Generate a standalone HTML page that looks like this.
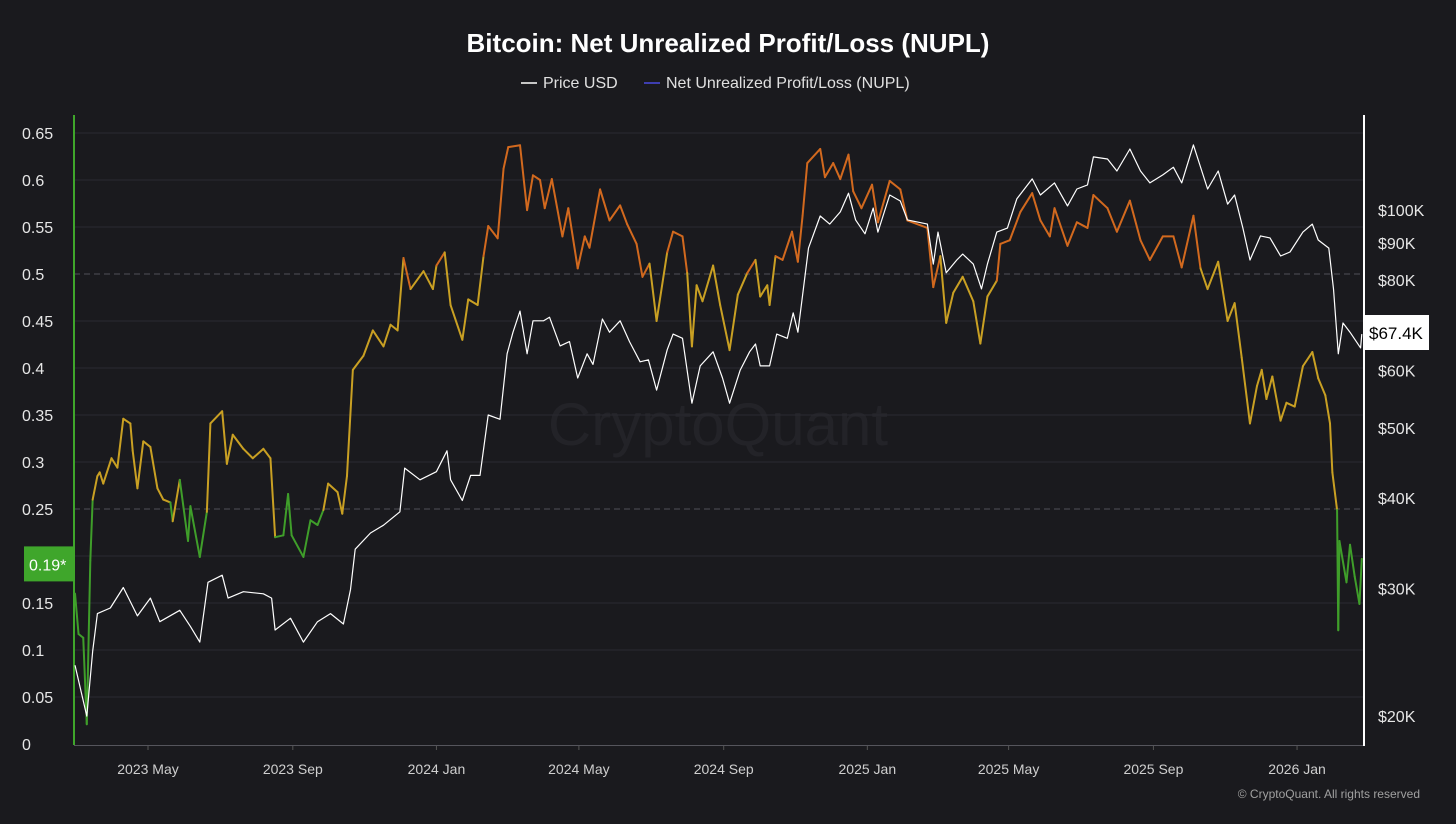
<!DOCTYPE html>
<html><head><meta charset="utf-8">
<style>
html,body{margin:0;padding:0;background:#1a1a1e;}
body{width:1456px;height:819px;overflow:hidden;font-family:"Liberation Sans",sans-serif;}
svg text{font-family:"Liberation Sans",sans-serif;}
</style></head>
<body>
<svg id="chart" width="1456" height="819" viewBox="0 0 1456 819" xmlns="http://www.w3.org/2000/svg">
<rect x="0" y="0" width="1456" height="819" fill="#1a1a1e"/>
<text x="728" y="52" text-anchor="middle" fill="#ffffff" font-size="26" font-weight="bold">Bitcoin: Net Unrealized Profit/Loss (NUPL)</text>
<g>
<line x1="521" y1="83" x2="537" y2="83" stroke="#ffffff" stroke-width="1.5"/>
<text x="543" y="88" fill="#e0e0e0" font-size="16">Price USD</text>
<line x1="644" y1="83" x2="660" y2="83" stroke="#4a4ae0" stroke-width="1.5"/>
<text x="666" y="88" fill="#e0e0e0" font-size="16">Net Unrealized Profit/Loss (NUPL)</text>
</g>
<text x="718" y="445" text-anchor="middle" fill="#232328" font-size="60">CryptoQuant</text>
<g id="grid"></g>
<g id="axes"></g>
<g id="series"></g>
<g id="labels"></g>
<text x="1420" y="798" text-anchor="end" fill="#a0a0a0" font-size="12">© CryptoQuant. All rights reserved</text>
</svg>
<script>
// ---- data ----
const nuplTicks = [0,0.05,0.1,0.15,0.2,0.25,0.3,0.35,0.4,0.45,0.5,0.55,0.6,0.65];
const priceTicks = [20,30,40,50,60,80,90,100];
const xTickLabels = ["2023 May","2023 Sep","2024 Jan","2024 May","2024 Sep","2025 Jan","2025 May","2025 Sep","2026 Jan"];
const xTickDays = [0,123,245,366,489,611,731,854,976]; // days since 2023-05-01
const nuplDays = [-62,-59,-55,-52,-49,-47,-43,-41,-38,-31,-26,-21,-15,-13,-9,-4,2,8,13,19,21,27,34,36,44,50,53,63,67,72,81,89,98,104,108,115,119,122,132,138,144,149,153,161,165,169,174,183,191,200,206,212,217,223,234,242,245,252,257,267,272,280,285,289,297,302,306,316,322,327,333,337,343,352,357,365,371,375,384,392,401,407,415,420,426,432,441,446,454,458,462,466,471,480,486,494,501,509,516,520,526,528,533,539,547,552,556,560,571,575,582,588,595,599,606,615,620,630,639,645,662,667,673,678,684,692,701,707,713,721,724,732,741,751,758,766,770,781,789,798,803,815,823,834,843,851,862,871,878,888,894,900,909,917,923,929,936,942,946,950,955,962,967,974,981,989,994,1000,1004,1006,1010,1011,1012,1018,1021,1025,1029,1031];
const nuplValues = [0.160,0.117,0.113,0.021,0.195,0.260,0.285,0.289,0.277,0.304,0.294,0.346,0.341,0.312,0.272,0.322,0.316,0.272,0.260,0.257,0.237,0.281,0.216,0.253,0.199,0.247,0.341,0.354,0.298,0.329,0.314,0.304,0.314,0.304,0.220,0.222,0.266,0.222,0.199,0.238,0.233,0.249,0.277,0.268,0.245,0.285,0.398,0.413,0.440,0.423,0.446,0.440,0.517,0.484,0.503,0.484,0.509,0.523,0.467,0.430,0.473,0.467,0.519,0.551,0.538,0.612,0.635,0.637,0.568,0.605,0.600,0.570,0.601,0.540,0.570,0.506,0.540,0.528,0.590,0.557,0.573,0.553,0.532,0.497,0.511,0.450,0.523,0.545,0.540,0.501,0.423,0.488,0.471,0.509,0.467,0.419,0.478,0.501,0.515,0.476,0.488,0.467,0.519,0.515,0.545,0.513,0.562,0.618,0.633,0.603,0.618,0.601,0.627,0.588,0.570,0.595,0.555,0.599,0.590,0.557,0.549,0.486,0.519,0.448,0.480,0.497,0.471,0.426,0.476,0.493,0.532,0.536,0.566,0.586,0.557,0.540,0.570,0.530,0.555,0.549,0.584,0.570,0.545,0.578,0.536,0.515,0.540,0.540,0.507,0.562,0.506,0.484,0.513,0.450,0.469,0.411,0.341,0.381,0.398,0.367,0.391,0.344,0.363,0.359,0.402,0.417,0.389,0.371,0.341,0.289,0.249,0.121,0.216,0.172,0.212,0.178,0.149,0.197];
const priceDays = [-62,-52,-47,-43,-32,-21,-9,2,10,27,36,44,51,63,68,81,98,105,108,121,132,144,155,166,172,176,189,200,214,218,231,245,254,257,267,274,282,289,299,305,310,316,322,327,336,341,350,358,365,373,378,386,392,401,409,418,425,432,441,446,454,462,469,480,488,494,503,511,516,520,528,534,543,548,552,556,561,571,579,588,595,601,609,616,620,630,639,645,662,667,671,678,687,692,701,708,713,721,730,738,751,758,770,781,789,798,803,815,823,834,843,851,862,871,878,888,900,909,917,923,930,936,945,953,962,970,981,989,994,1003,1007,1011,1015,1021,1030,1031];
const priceValuesK = [23.5,20.0,24.6,27.7,28.2,30.1,27.5,29.1,27.0,28.0,26.6,25.3,30.6,31.3,29.1,29.7,29.5,29.1,26.3,27.3,25.3,27.0,27.7,26.8,29.9,34.0,35.8,36.7,38.3,44.0,42.4,43.5,46.5,42.4,39.7,43.0,43.0,52.1,51.4,63.3,67.8,72.5,63.3,70.3,70.3,71.1,64.9,65.8,58.6,63.3,61.2,70.7,67.8,70.3,65.8,61.7,62.1,56.4,64.1,67.4,66.5,54.1,60.9,63.7,58.6,54.1,60.1,63.7,65.3,60.9,60.9,67.4,66.5,72.1,67.8,76.3,88.6,98.1,95.6,99.4,105.5,96.9,92.7,100.6,93.2,104.9,102.9,96.9,95.6,84.2,93.2,81.9,85.3,86.9,84.2,77.8,84.2,93.2,94.4,103.6,110.4,104.9,109.0,101.3,106.9,108.3,118.4,117.6,113.2,121.4,113.2,109.0,111.8,114.6,109.0,123.0,106.9,113.2,101.9,104.9,94.4,85.3,92.1,91.5,86.4,87.5,93.2,95.6,90.9,88.6,77.8,63.3,69.8,67.8,64.5,67.4];
const lastNuplLabel = "0.19*";
const lastPriceLabel = "$67.4K";

// ---- scales ----
const plotL = 74, plotR = 1364, plotTop = 115, plotBottom = 744;
function xScale(d){ return 148 + d*1.1773; }
function yNupl(v){ return 744 - v*940; }
function yPrice(k){ return 210 + 724*Math.log10(100/k); }
const NS = "http://www.w3.org/2000/svg";
function mk(tag, attrs, parent){ const e=document.createElementNS(NS,tag); for(const k in attrs) e.setAttribute(k,attrs[k]); parent.appendChild(e); return e; }
const grid=document.getElementById('grid'), axes=document.getElementById('axes'), series=document.getElementById('series'), labels=document.getElementById('labels');
const lastNuplY = yNupl(parseFloat(lastNuplLabel)) - 2;

// gridlines + left ticks
nuplTicks.forEach(function(t){
  const y=yNupl(t);
  const dashed = (Math.abs(t-0.25)<1e-6||Math.abs(t-0.5)<1e-6);
  if(t>0){
    const g=mk('line',{x1:plotL,x2:plotR,y1:y,y2:y,stroke:dashed?'#505058':'#2a2a31','stroke-width':1,'stroke-dasharray':dashed?'6,4':'none'},grid);
    
    
  }
  if(Math.abs(y-lastNuplY)<20) return;
  const tx=mk('text',{x:22,y:y+6,fill:'#e6e6e6','font-size':16},labels);
  tx.textContent = t===0?'0':String(t);
  
  
});
// right ticks
priceTicks.forEach(function(k){
  const tx=mk('text',{x:1378,y:yPrice(k)+6,fill:'#e6e6e6','font-size':16},labels);
  tx.textContent='$'+k+'K';
  
  
});
// x ticks
xTickLabels.forEach(function(lbl,i){
  const x=xScale(xTickDays[i]);
  const tx=mk('text',{x:x,y:774,fill:'#cfcfcf','font-size':14,'text-anchor':'middle'},labels);
  tx.textContent=lbl;
  
  
  const tk=mk('line',{x1:x,x2:x,y1:745,y2:750,stroke:'#555'},axes);
  
  
});
const xa=mk('line',{x1:plotL,x2:plotR,y1:745.5,y2:745.5,stroke:'#55555c','stroke-width':1},axes);


const la=mk('line',{x1:74,x2:74,y1:115,y2:745,stroke:'#3fa62b','stroke-width':2},axes);


const ra=mk('line',{x1:1364,x2:1364,y1:115,y2:746,stroke:'#ffffff','stroke-width':2},axes);



// NUPL series colored by zone
function zoneColor(v){ return v<0.25?'#3f9e2a':(v<0.5?'#c9a023':'#d2691e'); }
for(let i=0;i<nuplValues.length-1;i++){
  const m=(nuplValues[i]+nuplValues[i+1])/2;
  const s=mk('line',{x1:xScale(nuplDays[i]),y1:yNupl(nuplValues[i]),x2:xScale(nuplDays[i+1]),y2:yNupl(nuplValues[i+1]),stroke:zoneColor(m),'stroke-width':2,'stroke-linecap':'round'},series);
  
  
}
// price line
let d='';
priceValuesK.forEach(function(v,i){ d+=(i?'L':'M')+xScale(priceDays[i]).toFixed(1)+','+yPrice(v).toFixed(1); });
const pl=mk('path',{d:d,fill:'none',stroke:'#ffffff','stroke-width':1.2,'stroke-linejoin':'round'},series);



// last value labels
const gb=mk('rect',{x:24,y:lastNuplY-17,width:50,height:35,fill:'#3fa62b'},labels);


const gt=mk('text',{x:29,y:lastNuplY+7,fill:'#ffffff','font-size':16},labels);
gt.textContent=lastNuplLabel;


const pb=mk('rect',{x:1365,y:315,width:64,height:35,fill:'#ffffff'},labels);


const pt=mk('text',{x:1369,y:339,fill:'#000000','font-size':17},labels);
pt.textContent=lastPriceLabel;


</script>
</body></html>
